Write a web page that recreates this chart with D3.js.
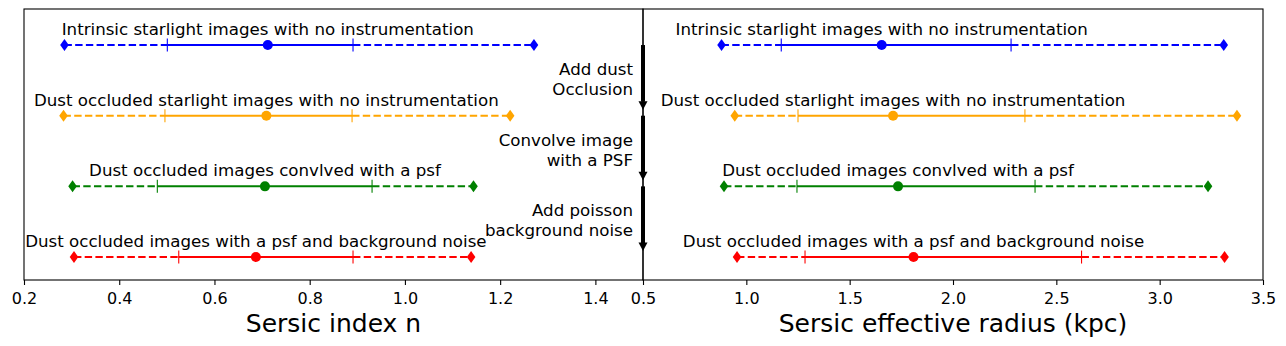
<!DOCTYPE html>
<html>
<head>
<meta charset="utf-8">
<script src="https://cdn.jsdelivr.net/npm/d3@7"></script>
<style>
	body { margin: 0; background: #fff; }
	text { font-family: 'DejaVu Sans', sans-serif; fill: #000; }
</style>
</head>
<body>
<div id="chart"></div>
<script>

var rowLabels = [
	'Intrinsic starlight images with no instrumentation',
	'Dust occluded starlight images with no instrumentation',
	'Dust occluded images convlved with a psf',
	'Dust occluded images with a psf and background noise'
];
var rowColors = ['blue', 'orange', 'green', 'red'];
var rowLevels = [3, 2, 1, 0];

/* Sersic index n: min, lower quartile, median, upper quartile, max */
var nMin = [0.285, 0.283, 0.302, 0.305];
var nLo = [0.501, 0.496, 0.480, 0.525];
var nMed = [0.712, 0.709, 0.706, 0.687];
var nHi = [0.891, 0.889, 0.931, 0.891];
var nMax = [1.271, 1.221, 1.144, 1.139];

/* Sersic effective radius (kpc) */
var reMin = [0.880, 0.944, 0.892, 0.955];
var reLo = [1.169, 1.250, 1.245, 1.284];
var reMed = [1.655, 1.710, 1.734, 1.809];
var reHi = [2.281, 2.348, 2.397, 2.622];
var reMax = [3.310, 3.374, 3.234, 3.314];

var nTicks = [0.2, 0.4, 0.6, 0.8, 1.0, 1.2, 1.4];
var reTicks = [0.5, 1.0, 1.5, 2.0, 2.5, 3.0, 3.5];

var stepLabels = [
	['Add dust', 'Occlusion'],
	['Convolve image', 'with a PSF'],
	['Add poisson', 'background noise']
];

var width = 1286, height = 346;
var plotTop = 9, plotBottom = 280;

var svg = d3.select('#chart').append('svg')
	.attr('width', width)
	.attr('height', height)

var yScale = d3.scaleLinear()
	.domain([-0.325, 3.51])
	.range([plotBottom, plotTop])

function panel(left, right, domain, ticks, mins, los, meds, his, maxs, xLabel) {
	var x = d3.scaleLinear().domain(domain).range([left, right]);
	var g = svg.append('g');

	g.append('g')
		.attr('transform', 'translate(0,' + plotBottom + ')')
		.call(d3.axisBottom(x).tickValues(ticks).tickFormat(d3.format('.1f')).tickSize(5).tickSizeOuter(0))
		.call(function (a) {
			a.select('.domain').remove();
			a.selectAll('line').attr('stroke-width', 1.1);
			a.selectAll('text')
				.attr('font-size', '16px')
				.attr('dy', '1.0em')
				.style('font-family', "'DejaVu Sans', sans-serif");
		})

	g.append('rect')
		.attr('x', left)
		.attr('y', plotTop)
		.attr('width', right - left)
		.attr('height', plotBottom - plotTop)
		.attr('fill', 'none')
		.attr('stroke', '#000')
		.attr('stroke-width', 1.1)

	g.append('text')
		.attr('x', (left + right) / 2)
		.attr('y', 332)
		.attr('text-anchor', 'middle')
		.attr('font-size', '25px')
		.text(xLabel)

	rowLevels.forEach(function (lev, i) {
		var y = yScale(lev);
		var col = rowColors[i];
		var segs = [[mins[i], los[i], '7.4,3.3'], [los[i], his[i], null], [his[i], maxs[i], '7.4,3.3']];
		segs.forEach(function (s) {
			g.append('line')
				.attr('x1', x(s[0])).attr('x2', x(s[1]))
				.attr('y1', y).attr('y2', y)
				.attr('stroke', col)
				.attr('stroke-width', 2)
				.attr('stroke-dasharray', s[2])
		})
		;[los[i], his[i]].forEach(function (v) {
			g.append('line')
				.attr('x1', x(v)).attr('x2', x(v))
				.attr('y1', y - 6.5).attr('y2', y + 6.5)
				.attr('stroke', col)
				.attr('stroke-width', 1.1)
		})
		;[mins[i], maxs[i]].forEach(function (v) {
			g.append('path')
				.attr('d', 'M0,-6L4.3,0L0,6L-4.3,0Z')
				.attr('transform', 'translate(' + x(v) + ',' + y + ')')
				.attr('fill', col)
		})
		g.append('circle')
			.attr('cx', x(meds[i]))
			.attr('cy', y)
			.attr('r', 5)
			.attr('fill', col)
		g.append('text')
			.attr('x', x(meds[i]))
			.attr('y', yScale(lev + 0.14))
			.attr('text-anchor', 'middle')
			.attr('font-size', '16.67px')
			.text(rowLabels[i])
	})

	return x;
}

var xN = panel(24, 643, [0.2, 1.5], nTicks, nMin, nLo, nMed, nHi, nMax, 'Sersic index n');
var xR = panel(643, 1263, [0.5, 3.5], reTicks, reMin, reLo, reMed, reHi, reMax, 'Sersic effective radius (kpc)');

/* pipeline arrows drawn on the shared edge */
var ax = xN(1.5);
stepLabels.forEach(function (lines, i) {
	var y0 = yScale(rowLevels[i]);
	var y1 = yScale(rowLevels[i + 1]) - 6;
	svg.append('rect')
		.attr('x', ax - 2)
		.attr('y', y0)
		.attr('width', 4)
		.attr('height', y1 - 8 - y0)
		.attr('fill', '#000')
	svg.append('path')
		.attr('d', 'M' + (ax - 4.5) + ',' + (y1 - 8.5) + 'L' + (ax + 4.5) + ',' + (y1 - 8.5) + 'L' + ax + ',' + y1 + 'Z')
		.attr('fill', '#000')
	var mid = (yScale(rowLevels[i]) + yScale(rowLevels[i + 1])) / 2;
	lines.forEach(function (t, j) {
		svg.append('text')
			.attr('x', ax - 10)
			.attr('y', mid - 5.5 + j * 20)
			.attr('text-anchor', 'end')
			.attr('font-size', '16.67px')
			.text(t)
	})
})

</script>
</body>
</html>
